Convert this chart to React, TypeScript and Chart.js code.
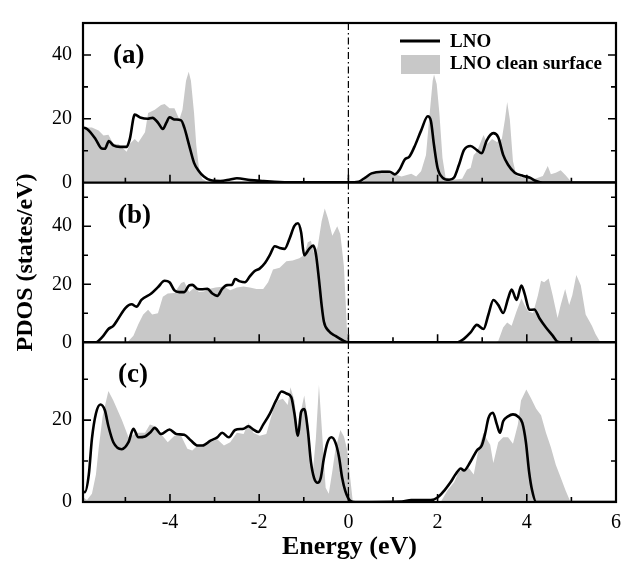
import React, { useEffect, useRef } from 'react';
import { Chart, registerables } from 'chart.js';

Chart.register(...registerables);

const FONT = "'Liberation Serif', 'Times New Roman', serif";
const GRAY = '#c8c8c8';

const X_MIN = -5.95;
const X_MAX = 6;
const X_TICK_LABELS = [-4, -2, 0, 2, 4, 6];
const X_TICKS_ALL = [-5, -4, -3, -2, -1, 0, 1, 2, 3, 4, 5, 6];
const X_TITLE = 'Energy (eV)';
const Y_TITLE = 'PDOS (states/eV)';
const PANEL_LABELS = ['(a)', '(b)', '(c)'];
const Y_MAX = [50, 55, 39];
const Y_TICK_LABELS = [[0, 20, 40], [0, 20, 40], [0, 20]];
const SERIES_NAMES = ['LNO', 'LNO clean surface'];

// Panel (a)
const A_LNO: [number, number][] = [
  [-5.97, 17.3], [-5.86, 16.8], [-5.67, 13.7], [-5.53, 10.7], [-5.46, 10.6], [-5.37, 13], [-5.27, 11.7],
  [-5.12, 11.2], [-4.97, 11.2], [-4.9, 13.7], [-4.79, 21.3], [-4.65, 20.3], [-4.5, 20], [-4.39, 20.3],
  [-4.27, 18.8], [-4.16, 16.8], [-4.08, 18.8], [-4.01, 20.5], [-3.9, 19.8], [-3.75, 19.5], [-3.68, 17.3],
  [-3.57, 11.7], [-3.46, 6.2], [-3.35, 3.6], [-3.24, 1.9], [-3.1, 0.8], [-2.87, 0.5], [-2.65, 1.0],
  [-2.5, 1.4], [-2.2, 0.8], [-1.9, 0.5], [-1.54, 0.2], [-1.0, 0.1], [0, 0.1], [0.23, 0.3], [0.38, 1.6],
  [0.52, 2.9], [0.75, 3.4], [0.93, 3.4], [1.04, 2.6], [1.15, 4.1], [1.26, 7.2], [1.37, 8.2], [1.48, 11.2],
  [1.63, 16.3], [1.78, 20.8], [1.85, 19.3], [1.92, 11.7], [2.0, 4.6], [2.11, 1.6], [2.26, 0.9], [2.37, 1.6],
  [2.48, 5.6], [2.59, 10.2], [2.74, 11.5], [2.88, 10.2], [2.99, 9.2], [3.1, 13.2], [3.25, 15.5], [3.36, 14.2],
  [3.47, 8.7], [3.58, 5.6], [3.73, 3.1], [3.92, 2.1], [4.06, 1.6], [4.21, 0.5], [4.36, 0], [6, 0],
];
const A_CLEAN: [number, number][] = [
  [-5.97, 15.8], [-5.86, 17.3], [-5.75, 17.3], [-5.6, 16.3], [-5.49, 14.8], [-5.38, 15], [-5.27, 12.2],
  [-5.15, 12], [-4.97, 9.7], [-4.9, 12.2], [-4.79, 13.7], [-4.71, 12.6], [-4.56, 15.8], [-4.49, 21.8],
  [-4.34, 22.8], [-4.2, 24.3], [-4.12, 24.6], [-4.01, 23.3], [-3.9, 23.3], [-3.79, 19.8], [-3.72, 22.8],
  [-3.64, 31.9], [-3.58, 34.7], [-3.53, 31.9], [-3.46, 21.8], [-3.41, 11.7], [-3.35, 4.6], [-3.28, 1.2],
  [-3.16, 0.2], [0.3, 0], [0.45, 2.1], [0.75, 3.9], [0.89, 3.9], [1.04, 2.6], [1.19, 1.9], [1.41, 2.8],
  [1.52, 1.9], [1.63, 3.6], [1.74, 8.7], [1.81, 19.8], [1.89, 31.9], [1.92, 33.9], [1.98, 30.9], [2.04, 21.8],
  [2.11, 7.7], [2.18, 1.6], [2.4, 1], [2.55, 1.2], [2.66, 4.1], [2.74, 4.6], [2.81, 8.7], [2.88, 9.7],
  [3.03, 14.9], [3.12, 12.2], [3.22, 13.7], [3.33, 12.7], [3.44, 13.7], [3.51, 19.8], [3.56, 25.3],
  [3.62, 19.8], [3.69, 6.7], [3.77, 2.1], [3.9, 1.6], [4.06, 1.6], [4.14, 1], [4.36, 2.1], [4.47, 5.2],
  [4.54, 2.6], [4.65, 3.1], [4.76, 3.9], [4.87, 2.3], [4.98, 0.5], [5.06, 0], [6, 0],
];

// Panel (b)
const B_LNO: [number, number][] = [
  [-5.97, 0], [-5.67, 0], [-5.52, 1.8], [-5.38, 4.6], [-5.27, 5.7], [-5.15, 8.4], [-5.0, 11.8], [-4.86, 13.1],
  [-4.75, 12.3], [-4.64, 14.6], [-4.42, 16.8], [-4.27, 19], [-4.12, 21.2], [-4.01, 20.7], [-3.9, 17.9],
  [-3.79, 17.3], [-3.68, 17.3], [-3.57, 19.6], [-3.5, 19.8], [-3.38, 18.4], [-3.27, 18.3], [-3.16, 18.4],
  [-3.05, 16.8], [-2.94, 16], [-2.83, 18.4], [-2.72, 19.7], [-2.61, 19.8], [-2.54, 21.8], [-2.43, 21],
  [-2.32, 20.7], [-2.21, 22.7], [-2.1, 24.6], [-1.99, 25.4], [-1.87, 27.3], [-1.76, 30.1], [-1.65, 33.1],
  [-1.54, 32.5], [-1.43, 32.2], [-1.32, 35.7], [-1.21, 40.1], [-1.13, 41], [-1.06, 37.9], [-0.99, 30],
  [-0.88, 32.2], [-0.79, 33.3], [-0.73, 30.6], [-0.66, 21.7], [-0.6, 12.8], [-0.55, 7.2], [-0.44, 3.9],
  [-0.29, 2.2], [-0.14, 0.8], [0, 0], [2.45, 0], [2.59, 1.2], [2.74, 3.4], [2.88, 6], [3.03, 4.6],
  [3.14, 9.6], [3.25, 14.6], [3.36, 12.9], [3.47, 10.1], [3.58, 15.1], [3.66, 18.2], [3.77, 14.6],
  [3.88, 19.6], [3.95, 16.8], [4.06, 11.2], [4.17, 11.3], [4.28, 8.4], [4.43, 5.1], [4.58, 2.3],
  [4.69, 0.2], [4.8, 0], [6, 0],
];
const B_CLEAN: [number, number][] = [
  [-5.97, 0], [-4.95, 0], [-4.93, 0.5], [-4.82, 2.3], [-4.71, 6.2], [-4.6, 9.6], [-4.49, 11.2], [-4.4, 9.6],
  [-4.27, 10], [-4.16, 15.7], [-4.05, 16.8], [-3.9, 17], [-3.75, 20.4], [-3.68, 20.9], [-3.57, 17.3],
  [-3.46, 18.7], [-3.35, 17.3], [-3.24, 17.5], [-3.1, 18.5], [-2.98, 18.9], [-2.79, 19.2], [-2.65, 17.9],
  [-2.5, 18.9], [-2.35, 19.2], [-2.21, 18.9], [-2.06, 18.4], [-1.91, 18.4], [-1.8, 20.7], [-1.69, 25.1],
  [-1.54, 25.7], [-1.39, 27.9], [-1.25, 28.2], [-1.1, 29], [-0.99, 30.1], [-0.91, 34.5], [-0.84, 35],
  [-0.77, 30.6], [-0.69, 32.8], [-0.6, 41.7], [-0.53, 46.1], [-0.46, 42.8], [-0.36, 36.7], [-0.25, 40],
  [-0.18, 37.2], [-0.1, 26.1], [-0.05, 10.6], [-0.02, 0], [3.3, 0], [3.36, 0.5], [3.47, 5.1], [3.56, 6.8],
  [3.66, 5.7], [3.77, 10.7], [3.88, 15.1], [3.95, 12.9], [4.03, 10.7], [4.14, 10.1], [4.25, 16.2],
  [4.32, 21.2], [4.39, 20.7], [4.49, 22], [4.58, 16.2], [4.69, 8.4], [4.76, 12.9], [4.86, 18.4],
  [4.95, 12.9], [5.02, 16.2], [5.11, 23.2], [5.21, 19.7], [5.32, 9.6], [5.46, 5.7], [5.54, 2.9],
  [5.65, 0], [6, 0],
];

// Panel (c)
const C_LNO: [number, number][] = [
  [-5.97, 2.8], [-5.91, 2.4], [-5.82, 6.7], [-5.75, 15.4], [-5.66, 21.6], [-5.56, 23.8], [-5.46, 22.4],
  [-5.38, 18.5], [-5.27, 14.6], [-5.08, 12.9], [-4.93, 14.6], [-4.82, 17.9], [-4.71, 15.8], [-4.56, 16],
  [-4.45, 16.9], [-4.34, 18.1], [-4.2, 16.6], [-4.01, 17.7], [-3.86, 16.6], [-3.68, 16.4], [-3.53, 15],
  [-3.38, 13.8], [-3.27, 13.8], [-3.09, 15], [-2.94, 15.8], [-2.83, 16.9], [-2.68, 15.8], [-2.54, 17.6],
  [-2.35, 17.9], [-2.24, 18.5], [-2.13, 17.7], [-2.02, 17.1], [-1.91, 18.9], [-1.76, 21.6], [-1.62, 24.8],
  [-1.5, 27], [-1.39, 26.5], [-1.28, 25.6], [-1.21, 21.6], [-1.13, 16.2], [-1.06, 22], [-0.99, 22.7],
  [-0.91, 17.6], [-0.84, 9.8], [-0.77, 5.9], [-0.69, 4.7], [-0.62, 5.9], [-0.55, 10.6], [-0.47, 14.5],
  [-0.38, 15.8], [-0.29, 14.5], [-0.21, 11], [-0.14, 5.9], [-0.07, 2.7], [0.04, 0.3], [0.15, 0],
  [1.2, 0.1], [1.41, 0.5], [1.85, 0.5], [2.0, 1.1], [2.15, 2.8], [2.29, 4.8], [2.4, 6.7], [2.52, 8.2],
  [2.59, 7.7], [2.74, 9.9], [2.88, 12.6], [2.99, 13.8], [3.07, 16.9], [3.14, 20.5], [3.24, 21.8],
  [3.33, 18.9], [3.4, 16.9], [3.47, 19.7], [3.58, 20.9], [3.69, 21.4], [3.8, 20.9], [3.9, 19.3],
  [3.98, 14.6], [4.05, 7.5], [4.12, 2.8], [4.21, 0], [6, 0],
];
const C_CLEAN: [number, number][] = [
  [-5.97, 1.3], [-5.86, 0.5], [-5.75, 2], [-5.66, 6.7], [-5.6, 13], [-5.51, 20.9], [-5.43, 24.8],
  [-5.38, 27.1], [-5.27, 24.8], [-5.08, 20.1], [-4.93, 15.8], [-4.86, 16.2], [-4.75, 16.9], [-4.56, 16.9],
  [-4.45, 18.9], [-4.34, 18.5], [-4.2, 16.6], [-4.05, 14.6], [-3.9, 16.2], [-3.75, 16.2], [-3.61, 13],
  [-3.5, 12.6], [-3.38, 13.8], [-3.24, 14.1], [-3.09, 14.6], [-2.94, 15.3], [-2.79, 13.8], [-2.65, 14.6],
  [-2.5, 16.9], [-2.35, 16.6], [-2.24, 19.3], [-2.13, 16.9], [-1.99, 16.2], [-1.84, 16.6], [-1.69, 22.4],
  [-1.58, 24.8], [-1.47, 25.2], [-1.36, 23.7], [-1.3, 28], [-1.21, 24.8], [-1.13, 17], [-1.06, 22.4],
  [-0.99, 26], [-0.91, 20.1], [-0.81, 5.9], [-0.73, 15.3], [-0.66, 28.6], [-0.58, 15.3], [-0.51, 3.5],
  [-0.44, 2], [-0.36, 7.5], [-0.29, 12.9], [-0.18, 17.6], [-0.1, 16], [-0.03, 12.9], [0.04, 5.9],
  [0.1, 0], [2.07, 0], [2.22, 2.8], [2.37, 4.8], [2.48, 7.5], [2.59, 8], [2.7, 8.3], [2.81, 6.7],
  [2.92, 13], [3.03, 16.9], [3.1, 15.4], [3.18, 14], [3.25, 9.5], [3.36, 14.6], [3.47, 15.8], [3.58, 15.8],
  [3.69, 14.2], [3.8, 18.9], [3.87, 24.8], [3.99, 27.5], [4.1, 25.2], [4.21, 22.8], [4.32, 21.2],
  [4.43, 16.9], [4.54, 13.4], [4.65, 9.1], [4.76, 6], [4.87, 2.8], [4.98, 0], [6, 0],
];

const PANEL_IDS = ['ya', 'yb', 'yc'];
const PANEL_DATA = [
  { lno: A_LNO, clean: A_CLEAN },
  { lno: B_LNO, clean: B_CLEAN },
  { lno: C_LNO, clean: C_CLEAN },
];

const decorPlugin = {
  id: 'decor',
  afterDatasetsDraw(chart: any) {
    const ctx: CanvasRenderingContext2D = chart.ctx;
    const { left, right, top, bottom } = chart.chartArea;
    const xs = chart.scales.x;
    const panels = PANEL_IDS.map((id) => chart.scales[id]);
    ctx.save();
    ctx.strokeStyle = '#000';

    // Fermi level dash-dot line
    const x0 = xs.getPixelForValue(0);
    ctx.lineWidth = 1.2;
    ctx.setLineDash([7, 3, 1.5, 3]);
    ctx.beginPath();
    ctx.moveTo(x0, top);
    ctx.lineTo(x0, bottom);
    ctx.stroke();
    ctx.setLineDash([]);

    // inward ticks
    ctx.lineWidth = 1.6;
    panels.forEach((s: any, i: number) => {
      const pb = s.bottom;
      ctx.beginPath();
      X_TICKS_ALL.forEach((v) => {
        const px = xs.getPixelForValue(v);
        const len = v % 2 === 0 ? 8 : 5;
        ctx.moveTo(px, pb);
        ctx.lineTo(px, pb - len);
      });
      for (let v = 10; v < Y_MAX[i]; v += 10) {
        const py = s.getPixelForValue(v);
        const len = v % 20 === 0 ? 8 : 5;
        ctx.moveTo(left, py);
        ctx.lineTo(left + len, py);
        ctx.moveTo(right, py);
        ctx.lineTo(right - len, py);
      }
      ctx.stroke();
    });

    // frame and separators
    ctx.lineWidth = 2.2;
    ctx.strokeRect(left, top, right - left, bottom - top);
    ctx.beginPath();
    panels.slice(0, 2).forEach((s: any) => {
      ctx.moveTo(left, s.bottom);
      ctx.lineTo(right, s.bottom);
    });
    ctx.stroke();

    // panel labels
    ctx.fillStyle = '#000';
    ctx.font = `bold 27px ${FONT}`;
    ctx.textBaseline = 'middle';
    ctx.textAlign = 'left';
    const labelDx = [30, 35, 35];
    panels.forEach((s: any, i: number) => {
      ctx.fillText(PANEL_LABELS[i], left + labelDx[i], s.top + 33);
    });

    // legend
    const lx = left + 317;
    ctx.lineWidth = 3;
    ctx.beginPath();
    ctx.moveTo(lx, top + 18);
    ctx.lineTo(lx + 40, top + 18);
    ctx.stroke();
    ctx.fillStyle = GRAY;
    ctx.fillRect(lx + 1, top + 32, 39, 19);
    ctx.fillStyle = '#000';
    ctx.font = `bold 19px ${FONT}`;
    ctx.fillText(SERIES_NAMES[0], lx + 50, top + 19);
    ctx.fillText(SERIES_NAMES[1], lx + 50, top + 41);
    ctx.restore();
  },
};

function yScale(i: number) {
  return {
    type: 'linear',
    position: 'left',
    stack: 'panels',
    stackWeight: 1,
    weight: 3 - i,
    min: 0,
    max: Y_MAX[i],
    grid: { display: false, drawTicks: false },
    border: { display: false },
    afterBuildTicks: (s: any) => {
      s.ticks = Y_TICK_LABELS[i].map((v) => ({ value: v }));
    },
    afterFit: (s: any) => {
      s.width = 83;
    },
    ticks: {
      autoSkip: false,
      padding: 11,
      color: '#000',
      font: { family: FONT, size: 20 },
    },
    title: {
      display: i === 1,
      text: Y_TITLE,
      color: '#000',
      font: { family: FONT, size: 24, weight: 'bold' },
      padding: { top: 11, bottom: 0 },
    },
  };
}

export default function App() {
  const ref = useRef<HTMLCanvasElement>(null);
  useEffect(() => {
    const datasets: any[] = [];
    PANEL_DATA.forEach((p, i) => {
      datasets.push({
        label: SERIES_NAMES[1],
        data: p.clean,
        yAxisID: PANEL_IDS[i],
        borderWidth: 0,
        borderColor: GRAY,
        backgroundColor: GRAY,
        fill: 'origin',
        pointRadius: 0,
        tension: 0,
        order: 2,
      });
    });
    PANEL_DATA.forEach((p, i) => {
      datasets.push({
        label: SERIES_NAMES[0],
        data: p.lno,
        yAxisID: PANEL_IDS[i],
        borderWidth: 2.6,
        borderColor: '#000',
        backgroundColor: '#000',
        fill: false,
        pointRadius: 0,
        cubicInterpolationMode: 'monotone',
        order: 1,
      });
    });
    const chart = new Chart(ref.current as HTMLCanvasElement, {
      type: 'line',
      data: { datasets },
      options: {
        animation: false,
        responsive: false,
        layout: { padding: { left: 0, right: 7, top: 7, bottom: 0 } },
        plugins: { legend: { display: false }, tooltip: { enabled: false } },
        scales: {
          x: {
            type: 'linear',
            min: X_MIN,
            max: X_MAX,
            grid: { display: false, drawTicks: false },
            border: { display: false },
            afterBuildTicks: (s: any) => {
              s.ticks = X_TICK_LABELS.map((v) => ({ value: v }));
            },
            afterFit: (s: any) => {
              s.height = 65;
            },
            ticks: {
              autoSkip: false,
              maxRotation: 0,
              padding: 9,
              color: '#000',
              font: { family: FONT, size: 20 },
            },
            title: {
              display: true,
              text: X_TITLE,
              color: '#000',
              font: { family: FONT, size: 26, weight: 'bold' },
              padding: { top: 0, bottom: 4 },
            },
          },
          ya: yScale(0),
          yb: yScale(1),
          yc: yScale(2),
        } as any,
      },
      plugins: [decorPlugin],
    } as any);
    return () => chart.destroy();
  }, []);
  return (
    <div style={{ position: 'absolute', left: 0, top: 0, width: 630, height: 567, background: '#fff' }}>
      <canvas ref={ref} width={630} height={567} style={{ display: 'block' }} />
    </div>
  );
}
